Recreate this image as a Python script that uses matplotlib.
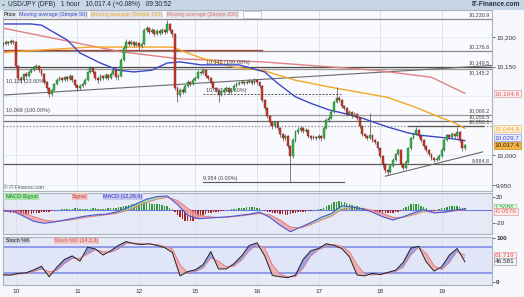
import numpy as np
import matplotlib
matplotlib.use("Agg")
import matplotlib.pyplot as plt
import matplotlib.transforms as mtransforms

plt.rcParams['font.family'] = ['Liberation Sans', 'DejaVu Sans']

# -----------------------------
# PRICE DATA (USD/JPY DFB, 1 hour candles)
# -----------------------------
first_open = 10186
closes = [10188, 10192, 10190, 10193, 10192, 10151, 10131, 10127, 10138, 10134,
          10141, 10144, 10148, 10151, 10144, 10138, 10124, 10114, 10104, 10111,
          10121, 10127, 10131, 10127, 10132, 10129, 10134, 10127, 10119, 10114,
          10117, 10121, 10127, 10141, 10148, 10141, 10131, 10127, 10134, 10131,
          10136, 10131, 10138, 10144, 10132, 10134, 10161, 10181, 10192, 10188,
          10192, 10186, 10190, 10185, 10188, 10212, 10215, 10208, 10212, 10205,
          10210, 10207, 10212, 10208, 10222, 10212, 10205, 10114, 10102, 10111,
          10107, 10117, 10124, 10121, 10127, 10131, 10141, 10139, 10144, 10134,
          10131, 10124, 10114, 10111, 10102, 10107, 10111, 10114, 10107, 10111,
          10117, 10121, 10122, 10124, 10122, 10124, 10126, 10122, 10127, 10124,
          10117, 10094, 10080, 10067, 10056, 10050, 10056, 10046, 10036, 10029,
          10033, 10016, 9999, 10026, 10040, 10043, 10046, 10041, 10043, 10033,
          10029, 10031, 10029, 10033, 10029, 10046, 10060, 10063, 10073, 10090,
          10097, 10094, 10083, 10080, 10070, 10073, 10067, 10070, 10063, 10050,
          10036, 10033, 10029, 10034, 10026, 10023, 10012, 9999, 9985, 9975,
          9972, 9982, 9992, 10002, 10009, 9985, 9979, 9989, 10012, 10029,
          10036, 10043, 10033, 10026, 10016, 10009, 10002, 9996, 9992, 9994,
          9999, 10009, 10026, 10034, 10031, 10036, 10033, 10040, 10026, 10012,
          10017.4]
highs = [10191, 10195, 10194, 10196, 10195, 10194, 10153, 10134, 10140, 10141,
         10143, 10147, 10152, 10155, 10153, 10146, 10140, 10126, 10116, 10113,
         10123, 10130, 10134, 10133, 10135, 10134, 10137, 10136, 10129, 10121,
         10120, 10124, 10130, 10143, 10151, 10150, 10143, 10133, 10137, 10136,
         10139, 10138, 10141, 10147, 10146, 10137, 10164, 10184, 10196, 10195,
         10195, 10194, 10193, 10192, 10191, 10215, 10219, 10217, 10215, 10214,
         10213, 10213, 10215, 10214, 10228, 10224, 10214, 10207, 10117, 10114,
         10114, 10120, 10127, 10126, 10130, 10134, 10144, 10143, 10148, 10146,
         10136, 10133, 10126, 10116, 10113, 10110, 10114, 10117, 10116, 10114,
         10120, 10124, 10125, 10127, 10126, 10127, 10129, 10128, 10130, 10129,
         10126, 10119, 10096, 10082, 10069, 10058, 10059, 10058, 10048, 10038,
         10036, 10035, 10018, 10029, 10043, 10048, 10050, 10048, 10046, 10045,
         10035, 10034, 10033, 10036, 10035, 10049, 10063, 10066, 10076, 10093,
         10115, 10100, 10096, 10086, 10082, 10076, 10075, 10073, 10072, 10065,
         10052, 10038, 10035, 10071, 10036, 10028, 10025, 10014, 10001, 9987,
         9977, 9985, 9995, 10005, 10012, 10011, 9987, 9992, 10015, 10032,
         10039, 10048, 10045, 10035, 10028, 10018, 10011, 10004, 9998, 9997,
         10002, 10012, 10029, 10037, 10036, 10039, 10038, 10048, 10042, 10028,
         10020]
lows = [10184, 10186, 10187, 10188, 10189, 10148, 10127, 10123, 10125, 10131,
        10132, 10139, 10142, 10146, 10141, 10135, 10121, 10110, 10099, 10101,
        10109, 10119, 10125, 10124, 10125, 10126, 10127, 10124, 10115, 10108,
        10111, 10115, 10119, 10125, 10139, 10138, 10128, 10122, 10125, 10128,
        10129, 10127, 10129, 10136, 10129, 10128, 10132, 10159, 10179, 10185,
        10186, 10183, 10184, 10178, 10182, 10186, 10209, 10205, 10206, 10202,
        10203, 10204, 10205, 10205, 10206, 10209, 10200, 10110, 10090, 10099,
        10103, 10105, 10115, 10118, 10119, 10125, 10129, 10136, 10137, 10131,
        10128, 10121, 10111, 10107, 10090, 10100, 10105, 10109, 10104, 10105,
        10109, 10115, 10119, 10120, 10119, 10120, 10122, 10119, 10120, 10121,
        10114, 10091, 10076, 10063, 10052, 10045, 10047, 10043, 10032, 10025,
        10026, 10012, 9955, 9996, 10023, 10037, 10040, 10038, 10039, 10030,
        10026, 10027, 10026, 10027, 10025, 10027, 10044, 10057, 10061, 10071,
        10088, 10091, 10080, 10077, 10067, 10068, 10064, 10065, 10060, 10047,
        10033, 10030, 10026, 10027, 10023, 10019, 10009, 9995, 9981, 9970,
        9967, 9970, 9980, 9990, 10000, 9982, 9975, 9977, 9987, 10010,
        10027, 10034, 10030, 10023, 10013, 10006, 9999, 9993, 9989, 9990,
        9992, 9997, 10007, 10024, 10028, 10029, 10030, 10031, 10023, 10008,
        10010]

day_labels = ["10", "11", "12", "15", "16", "17", "18", "19"]
day_index = [5, 29, 53, 75, 99, 123, 147, 171]

# moving averages (at these candles)
sma50_idx = [0, 11, 15, 25, 30, 38, 45, 51, 58, 64, 69, 77, 92, 102, 107, 114,
             120, 127, 132, 140, 150, 158, 163, 174, 180]
sma50_val = [10222, 10222, 10220, 10195, 10173, 10156, 10144, 10141, 10144, 10156,
             10158, 10153, 10153, 10141, 10122, 10099, 10088, 10077, 10072, 10063,
             10048, 10038, 10034, 10029, 10025]
sma100_idx = [0, 3, 15, 34, 46, 66, 69, 77, 90, 101, 114, 128, 141, 150, 161, 170, 176, 180]
sma100_val = [10173, 10175, 10178, 10183, 10183, 10183, 10178, 10165, 10149, 10144,
              10127, 10115, 10105, 10098, 10081, 10065, 10055, 10046]
sma200_idx = [0, 23, 46, 69, 101, 145, 167, 180]
sma200_val = [10215, 10195, 10175, 10163, 10158, 10144, 10132, 10105]

# drawn levels
levels = [10230.9, 10176.8, 10149.5, 10145.2, 10068.2, 10058.5, 10050.1, 9984.8]
level_text = ["10,230.9", "10,176.8", "10,149.5", "10,145.2", "10,068.2", "10,058.5",
              "10,050.1", "9,984.8"]

# -----------------------------
# MACD / STOCH DATA
# -----------------------------
macd_idx = list(range(0, 181, 4))
macd_line = [-2, -2.5, -10, -18, -21, -19, -16, -13, -10, -8, -7, -4, 2, 9, 16, 20,
             21, 8, -9, -14, -13, -12, -11, -9, -7, -4, -12, -24, -34, -27, -20, -12,
             -6, 6, 4, 1, -4, -11, -16, -11, -5, 0, -5, -4, -1, 1]
signal_line = [-1, -1.5, -5, -11, -16, -18, -17, -15, -12, -10, -8, -6, -2, 4, 11, 16,
               19, 14, 2, -8, -11, -12, -11.5, -10, -8, -6, -8, -16, -27, -28, -23, -16,
               -10, 0, 3, 2, -1, -6, -12, -12, -8, -3, -4, -4, -2, 0]
macd_hist = [-3, -4, -4, -5, -5, -6,
             -6, -7, -8, -8, -7, -7, -6,
             -5, -5, -4, -4, -3, -3, -2, -2,
             -1, -1, 0.5, 1, 1, 1.5, 1.5, 2, 2, 1.5, 1.5, 1, 1, 1.5, 2, 2, 1.5, 1, 1,
             1.5, 2, 2.5, 3, 3, 3.5,
             4, 5, 6, 7, 8, 9, 10, 10, 11, 11, 10, 10, 9, 9, 8, 8, 7, 6, 5, 3, 1,
             -4, -8, -12, -15, -17, -18, -18, -17, -15, -13, -11, -9, -7, -6,
             -5, -4, -3, -3, -2, -2, -1, -1, 0.5, 1, 1.5, 2, 2.5, 3, 3.5, 4, 4, 3.5, 3, 2,
             -1, -2, -3, -4, -5, -6, -6, -7, -7, -8, -8, -7,
             -6, -5, -4, -4, -3, -3, -2, -2, -1, -1, 0.5, 1,
             3, 5, 7, 9, 11, 12, 13, 12, 11, 10, 8, 7,
             6, 5, 4, 3, 2, 1,
             -1, -2, -3, -4, -4, -5, -5, -6, -6, -5, -4, -3, -2,
             2, 4, 6, 8, 9, 9, 8, 6, 4, 2,
             -1, -2, -2, -1, 0.5,
             2, 3, 4, 5, 6, 6, 5, 4, 3, 2]

stoch_idx = list(range(0, 181, 3))
stoch_k = [16, 16, 20, 21, 28, 36, 12, 34, 52, 60, 48, 80, 76, 62, 72, 84, 93, 88, 86, 88,
           84, 79, 68, 14, 24, 28, 40, 70, 30, 30, 42, 60, 84, 90, 60, 15, 12, 10, 16, 52,
           72, 77, 88, 84, 77, 58, 16, 14, 20, 17, 22, 27, 45, 78, 82, 46, 25, 35, 62, 77,
           46.6]
stoch_d = [18, 16, 18, 20, 24, 30, 24, 26, 42, 54, 55, 64, 74, 70, 68, 76, 88, 90, 88, 87,
           86, 82, 76, 40, 20, 24, 32, 55, 48, 35, 36, 50, 72, 86, 78, 40, 18, 12, 12, 32,
           60, 74, 82, 86, 82, 70, 40, 18, 16, 18, 20, 24, 34, 62, 80, 66, 38, 28, 45, 70,
           61.7]

# -----------------------------
# FIGURE LAYOUT (pixel boxes)
# -----------------------------
W, H = 524, 297
fig = plt.figure(figsize=(W / 100, H / 100), dpi=100, facecolor="#f6f7fa")


def box(x0, y0, x1, y1):
    return [x0 / W, 1 - y1 / H, (x1 - x0) / W, (y1 - y0) / H]


ax = fig.add_axes(box(3, 10, 492, 191), facecolor="#f9fafd")
axm = fig.add_axes(box(3, 193, 492, 234), facecolor="#e6eaf7", sharex=ax)
axs = fig.add_axes(box(3, 237, 492, 285), facecolor="#e6eaf7", sharex=ax)

for a in (ax, axm, axs):
    for s in a.spines.values():
        s.set_color("#a9b1c2")
        s.set_linewidth(0.8)
    a.yaxis.tick_right()
    a.tick_params(axis="y", labelsize=4.6, length=2, pad=1, colors="#333333", width=0.5)
    for d in day_index:
        a.axvline(d, color="#d8deea", lw=0.6, zorder=0)

ax.set_xlim(0, 190.6)

# -----------------------------
# PRICE PANEL
# -----------------------------
closes = np.array(closes, dtype=float)
highs = np.array(highs, dtype=float)
lows = np.array(lows, dtype=float)
opens = np.r_[first_open, closes[:-1]]
idx = np.arange(len(closes))
up = closes >= opens

for g in [9950, 10000, 10050, 10100, 10150, 10200]:
    ax.axhline(g, color="#e1e5ee", lw=0.5, zorder=0)

level_colors = ["#8a8a8a", "#8a8a8a", "#4a4a4a", "#9a9a9a", "#9a9a9a", "#6e6e6e", "#8a8a8a", "#5a5a5a"]
level_styles = ["-", "-", "-", "-", "-", "-", ":", "-"]
for lv, c, ls in zip(levels, level_colors, level_styles):
    ax.axhline(lv, color=c, lw=0.9, ls=ls, zorder=1)
ax.plot([0, 101], [10178.5, 10178.5], color="#a8443a", lw=0.9, zorder=1)

# label texts next to the levels (10,145.2 goes under its line)
trans_r = mtransforms.blended_transform_factory(ax.transAxes, ax.transData)
label_y = [10233, 10179, 10152, 10143.5, 10070.5, 10061, 10053, 9987]
label_va = ["bottom", "bottom", "bottom", "top", "bottom", "bottom", "bottom", "bottom"]
for ly, va, txt in zip(label_y, label_va, level_text):
    ax.text(0.996, ly, txt, transform=trans_r, ha="right", va=va, fontsize=3.9,
            color="#444444")

# trend lines
ax.plot([0, 190.6], [10102, 10152], color="#6a6a6a", lw=0.8, zorder=1)
ax.plot([149, 187], [9965, 10006], color="#6a6a6a", lw=0.8, zorder=1)
ax.plot([158, 187], [10049, 10049], color="#555555", lw=0.9, zorder=1)

# fibonacci style marks
ax.plot([78, 132], [10103, 10103], color="#555555", lw=0.7, ls=(0, (2, 1.5)), zorder=1)
ax.plot([78, 133], [9955, 9955], color="#555555", lw=0.8, zorder=1)
ax.text(1, 10121, "10,115 (23.60%)", fontsize=3.9, color="#444444", va="bottom")
ax.text(1, 10072, "10,068 (100.00%)", fontsize=3.9, color="#444444", va="bottom")
ax.text(79, 10152, "10,145 (100.00%)", fontsize=3.9, color="#444444", va="bottom")
ax.text(79, 10105, "10,103 (23.60%)", fontsize=3.9, color="#444444", va="bottom")
ax.text(78, 9957, "9,954 (0.00%)", fontsize=3.9, color="#444444", va="bottom")
ax.text(0.5, 9942, "© IT-Finance.com", fontsize=3.6, color="#555555", va="bottom")

# moving averages
ax.plot(sma200_idx, sma200_val, color="#e08080", lw=1.0, zorder=2)
ax.plot(sma100_idx, sma100_val, color="#f5a623", lw=1.0, zorder=2)
ax.plot(sma50_idx, sma50_val, color="#3b47c9", lw=1.0, zorder=2)

# candles
ax.vlines(idx, lows, highs, color="#4d4d4d", lw=0.5, zorder=3)
ax.bar(idx[up], (closes - opens)[up], bottom=opens[up], width=0.72,
       color="#35b448", edgecolor="#1e6e2a", lw=0.3, zorder=4)
ax.bar(idx[~up], (opens - closes)[~up], bottom=closes[~up], width=0.72,
       color="#c93a2f", edgecolor="#7a1c16", lw=0.3, zorder=4)

ax.set_ylim(9940, 10245.6)
ax.set_yticks([9950, 10000, 10150, 10200])
ax.set_yticklabels(["9,950", "10,000", "10,150", "10,200"])
ax.tick_params(axis="x", bottom=False, labelbottom=False)

# value boxes on the right axis
def value_box(a, y, txt, tc, fc, ec):
    tr = mtransforms.blended_transform_factory(a.transAxes, a.transData)
    a.text(1.006, y, txt, transform=tr, ha="left", va="center", fontsize=4.6, color=tc,
           bbox=dict(boxstyle="square,pad=0.15", fc=fc, ec=ec, lw=0.5), clip_on=False,
           zorder=10)

value_box(ax, 10104.6, "10,104.6", "#e05a5a", "#fbeeee", "#e89a9a")
value_box(ax, 10044.9, "10,044.9", "#f0a030", "#fdf3e2", "#f3b860")
value_box(ax, 10030.5, "10,029.7", "#3b47c9", "#eceefc", "#8f97e0")
value_box(ax, 10017.4, "10,017.4", "#222222", "#f6b640", "#c98b1a")

# -----------------------------
# MACD PANEL
# -----------------------------
hist = np.array(macd_hist, dtype=float)
axm.axhline(0, color="#6f7be0", lw=0.8, zorder=1)
axm.bar(idx[hist >= 0], hist[hist >= 0], width=0.55, color="#2f9a35", zorder=2)
axm.bar(idx[hist < 0], hist[hist < 0], width=0.55, color="#a82424", zorder=2)
ml = np.array(macd_line, dtype=float)
sl = np.array(signal_line, dtype=float)
axm.fill_between(macd_idx, ml, sl, where=ml >= sl, interpolate=True, color="#8ee08e",
                 alpha=0.8, lw=0, zorder=3)
axm.fill_between(macd_idx, ml, sl, where=ml < sl, interpolate=True, color="#f0a0a0",
                 alpha=0.8, lw=0, zorder=3)
axm.plot(macd_idx, sl, color="#e07a7a", lw=0.7, zorder=4)
axm.plot(macd_idx, ml, color="#4c55d6", lw=0.8, zorder=4)
axm.set_ylim(-37.5, 25.5)
axm.set_yticks([-20, 20])
axm.set_yticklabels(["-20", "20"])
axm.tick_params(axis="x", bottom=False, labelbottom=False)
value_box(axm, 3.5, "1.5686", "#2f9a35", "#eefaee", "#7fcf7f")
value_box(axm, -2.5, "-0.0576", "#e05a5a", "#fbeeee", "#e89a9a")

axm.text(1, 24, "MACD-Signal", fontsize=3.9, color="#1e7a25", va="top",
         bbox=dict(boxstyle="square,pad=0.1", fc="#a8e6a8", ec="none"))
axm.text(27, 24, "Signal", fontsize=3.9, color="#c04040", va="top",
         bbox=dict(boxstyle="square,pad=0.1", fc="#f3c0c0", ec="none"))
axm.text(39, 24, "MACD (12,26,9)", fontsize=3.9, color="#2a34b0", va="top",
         bbox=dict(boxstyle="square,pad=0.1", fc="#c4c8f2", ec="none"))

# -----------------------------
# STOCHASTIC PANEL
# -----------------------------
axs.axhspan(20, 80, color="#e0e5f8", zorder=0)
axs.axhline(80, color="#7c86e4", lw=1.1, zorder=1)
axs.axhline(20, color="#7c86e4", lw=1.1, zorder=1)
kk = np.array(stoch_k, dtype=float)
dd = np.array(stoch_d, dtype=float)
axs.fill_between(stoch_idx, kk, dd, where=kk >= dd, interpolate=True, color="#8088e6",
                 alpha=0.75, lw=0, zorder=2)
axs.fill_between(stoch_idx, kk, dd, where=kk < dd, interpolate=True, color="#f0a8a8",
                 alpha=0.85, lw=0, zorder=2)
axs.plot(stoch_idx, dd, color="#e07a7a", lw=0.6, zorder=3)
axs.plot(stoch_idx, kk, color="#222222", lw=0.7, zorder=4)
axs.set_ylim(-6.9, 103.4)
axs.set_yticks([0, 100])
axs.set_yticklabels(["0", "100"], fontweight="bold")
value_box(axs, 61.7, "61.719", "#e05a5a", "#fbeeee", "#e89a9a")
value_box(axs, 46.6, "46.581", "#222222", "#f4f5f8", "#9aa0ad")
axs.text(1, 101, "Stoch %K", fontsize=3.9, color="#111111", va="top",
         bbox=dict(boxstyle="square,pad=0.1", fc="#d0d4e4", ec="none"))
axs.text(20, 101, "Stoch %D (14,3,3)", fontsize=3.9, color="#d05050", va="top",
         bbox=dict(boxstyle="square,pad=0.1", fc="#f3c8c8", ec="none"))

axs.set_xticks(day_index)
axs.set_xticklabels(day_labels)
axs.tick_params(axis="x", labelsize=4.6, length=0, pad=3, colors="#333333")

# -----------------------------
# TITLE BAR + LEGEND ROW
# -----------------------------
tb = fig.add_axes(box(0, 0, 524, 10), facecolor="#c7d6e5")
tb.set_xticks([])
tb.set_yticks([])
for s in tb.spines.values():
    s.set_visible(False)
tb.text(8 / 524, 0.5, "USD/JPY (DFB)   1 hour   10,017.4 (+0.08%)   09:30:52",
        fontsize=4.8, color="#1c2a3a", va="center", transform=tb.transAxes)
tb.text(2 / 524, 0.5, "\u25cf", fontsize=3.5, color="#2f9a35", va="center",
        transform=tb.transAxes)
tb.text(0.993, 0.5, "IT-Finance.com", fontsize=4.8, color="#2a3340", va="center",
        ha="right", fontweight="bold", transform=tb.transAxes)

leg_y = 1 - 14.5 / H
leg = [("Price", "#111111", 4), ("Moving average (Simple 50)", "#3b47c9", 19),
       ("Moving average (Simple 100)", "#f5a623", 91),
       ("Moving average (Simple 200)", "#e07070", 167)]
for txt, c, x0 in leg:
    fig.text(x0 / W, leg_y, txt, fontsize=3.9, color=c, va="center",
             bbox=dict(boxstyle="square,pad=0.12", fc="#dfe4ec", ec="none"))
fig.patches.append(plt.Rectangle((243 / W, 1 - 18 / H), 18 / W, 7 / H, transform=fig.transFigure,
                                 fc="white", ec="#b0b6c2", lw=0.5))

plt.savefig("out.png", dpi=100, facecolor=fig.get_facecolor())
